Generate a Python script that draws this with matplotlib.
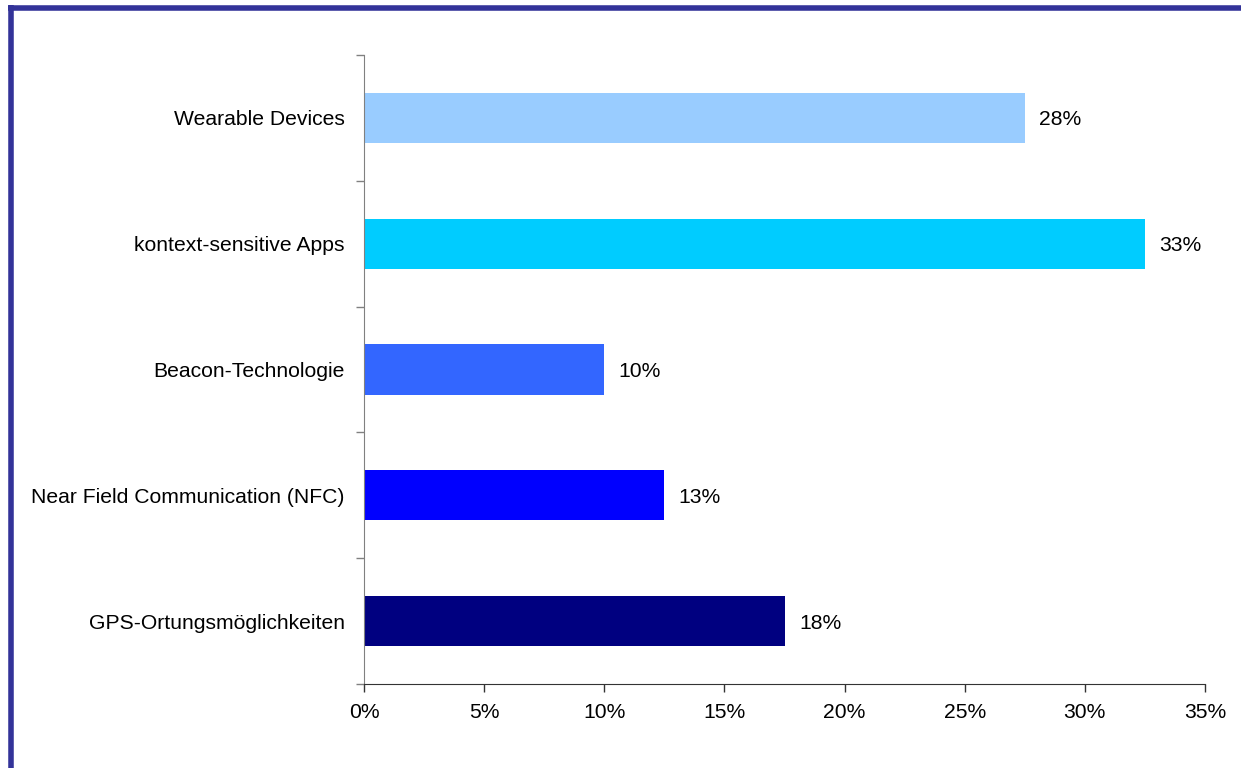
import math

from matplotlib import pyplot as plt
from matplotlib.lines import Line2D

# 数据
categories = ['GPS-Ortungsmöglichkeiten', 'Near Field Communication (NFC)',
              'Beacon-Technologie', 'kontext-sensitive Apps', 'Wearable Devices']
values = [17.5, 12.5, 10.0, 32.5, 27.5]
colors = ['#000080', '#0000FF', '#3366FF', '#00CCFF', '#99CCFF']
x_ticks = [0, 5, 10, 15, 20, 25, 30, 35]

plt.rcParams['font.family'] = ['Liberation Sans', 'DejaVu Sans']

fig = plt.figure(figsize=(12.41, 7.68), dpi=100)
ax = fig.add_axes([364 / 1241, 84 / 768, 841 / 1241, 629 / 768])

pos = list(range(len(categories)))
ax.barh(pos, values, height=0.4, color=colors)

# 数值标签（四舍五入）
for p, v in zip(pos, values):
    ax.text(v + 0.6, p, '%d%%' % math.floor(v + 0.5), va='center_baseline',
            ha='left', fontsize=15.2, color='black')

ax.set_xlim(0, 35)
ax.set_ylim(-0.5, len(categories) - 0.5)
ax.set_xticks(x_ticks)
ax.set_xticklabels(['%d%%' % t for t in x_ticks])

# 类别标签放在中间，刻度线放在分隔处
ax.set_yticks(pos)
ax.set_yticklabels(categories)
ax.set_yticks([i - 0.5 for i in range(len(categories) + 1)], minor=True)
ax.tick_params(axis='y', which='major', length=0, pad=14, labelsize=15.2)
ax.tick_params(axis='y', which='minor', length=6, width=1, color='#808080')
ax.tick_params(axis='x', which='major', length=6, width=1, color='#333333',
               pad=8, labelsize=15.2)

ax.spines['top'].set_visible(False)
ax.spines['right'].set_visible(False)
ax.spines['left'].set_color('#808080')
ax.spines['bottom'].set_color('#333333')

# 外框（只看得到上边和左边）
top_y = 1 - 7.5 / 768
left_x = 10.5 / 1241
fig.add_artist(Line2D([8 / 1241, 1], [top_y, top_y], transform=fig.transFigure,
                      color='#333399', lw=4, solid_capstyle='butt'))
fig.add_artist(Line2D([left_x, left_x], [0, 1 - 5 / 768], transform=fig.transFigure,
                      color='#333399', lw=4, solid_capstyle='butt'))

plt.savefig('out.png', dpi=100)
